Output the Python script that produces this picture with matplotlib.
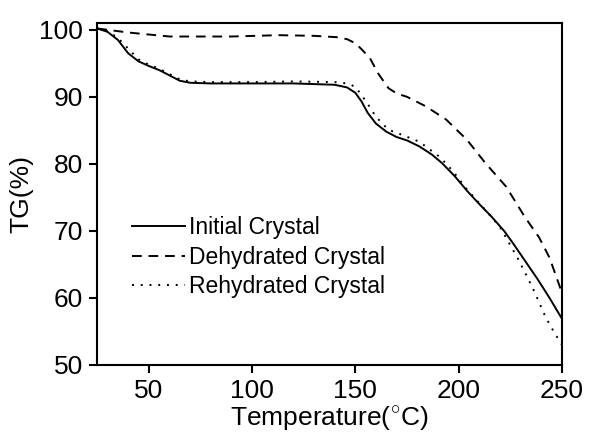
import matplotlib
matplotlib.use("Agg")
import matplotlib.pyplot as plt

plt.rcParams['font.family'] = ['Liberation Sans', 'DejaVu Sans']
plt.rcParams['mathtext.fontset'] = 'custom'
plt.rcParams['mathtext.rm'] = 'Liberation Sans'

# Initial crystal (solid)
t_init = [25, 30, 35, 40, 45, 50, 55, 60, 65, 70, 80, 100, 120, 140, 146, 150, 153, 156,
          160, 165, 170, 175, 181, 187, 192, 198, 204, 210, 216, 222, 226, 232, 238, 244, 250]
tg_init = [100.2, 99.7, 98.5, 96.5, 95.3, 94.6, 94.0, 93.2, 92.4, 92.1, 92.0, 92.0, 92.0, 91.8,
           91.4, 90.6, 89.3, 87.6, 86.0, 84.8, 84.0, 83.5, 82.6, 81.4, 80.1, 78.2, 76.0, 74.0,
           72.1, 70.0, 68.3, 65.6, 62.9, 60.0, 56.9]

# Dehydrated crystal (dashed)
t_dehy = [25, 30, 40, 50, 60, 70, 90, 113, 130, 141, 146, 150, 153, 157, 161, 166, 170, 175,
          184, 194, 204, 213, 223, 232, 239, 244, 250]
tg_dehy = [100.2, 100.0, 99.6, 99.3, 99.0, 99.0, 99.0, 99.2, 99.1, 98.9, 98.6, 98.0, 97.1,
           95.8, 93.5, 91.3, 90.5, 90.0, 88.6, 86.6, 83.6, 80.1, 76.6, 72.1, 69.0, 66.0, 60.8]

# Rehydrated crystal (dotted)
t_rehy = [25, 30, 35, 40, 45, 50, 55, 60, 65, 70, 80, 100, 120, 140, 146, 150, 155, 160,
          166, 172, 181, 191, 197, 204, 213, 220, 229, 236, 242, 246, 250]
tg_rehy = [100.2, 99.8, 98.8, 97.2, 95.6, 94.8, 94.2, 93.4, 92.6, 92.3, 92.2, 92.2, 92.3,
           92.2, 92.0, 91.5, 89.4, 87.0, 85.1, 84.4, 83.3, 81.0, 79.0, 76.2, 73.1, 70.6, 65.7,
           61.4, 57.2, 55.0, 53.0]

fig = plt.figure(figsize=(5.89, 4.36), dpi=100)
ax = fig.add_axes([0.165, 0.163, 0.789, 0.784])

ax.plot(t_init, tg_init, color='black', linestyle='-', linewidth=1.4, label='Initial Crystal')
ax.plot(t_dehy, tg_dehy, color='black', linestyle=(0, (5, 3.5)), linewidth=1.4,
        label='Dehydrated Crystal')
ax.plot(t_rehy, tg_rehy, color='black', linestyle=(0, (1, 3.5)), linewidth=1.4,
        label='Rehydrated Crystal')

ax.set_xlim(25, 250)
ax.set_ylim(50, 101)
ax.set_xticks([50, 100, 150, 200, 250])
ax.set_yticks([50, 60, 70, 80, 90, 100])
ax.tick_params(direction='out', length=6, width=1.5, labelsize=19, pad=4)
for s in ax.spines.values():
    s.set_linewidth(1.5)

ax.set_xlabel(r'Temperature($^{\circ}$C)', fontsize=19, labelpad=1)
ax.set_ylabel('TG(%)', fontsize=19, labelpad=4)

ax.legend(loc='upper left', bbox_to_anchor=(0.0555, 0.462), frameon=False, fontsize=16.5,
          handlelength=2.3, handletextpad=0.2, labelspacing=0.29, borderaxespad=0)

fig.savefig('out.png', dpi=100)
